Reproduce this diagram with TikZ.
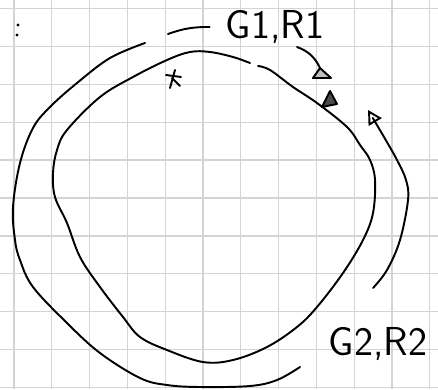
\documentclass[tikz,border=0pt]{standalone}
\usepackage{tikz}
\usetikzlibrary{arrows.meta}
\usetikzlibrary{positioning}

\tikzset{
  sketch/.style={line width=1.1pt, line cap=round, line join=round},
  gridline/.style={draw=black!17, line width=0.7pt},
  hand/.style={font=\sffamily\fontsize{23}{23}\selectfont, inner sep=0pt},
  tipopen/.style={-{Triangle[open, length=8pt, width=8.5pt]}},
}

\begin{document}
\begin{tikzpicture}[x=0.02cm, y=-0.02cm]
      \useasboundingbox (0,0) rectangle (438,389);

      % squared paper
      \foreach \gx in {14,51.8,...,431} \draw[gridline] (\gx,0) -- (\gx,389);
      \foreach \gy in {8.5,46.4,...,389} \draw[gridline] (0,\gy) -- (438,\gy);

      % labels
      \node[hand] (g1r1) at (275,27) {G1,R1};
      \node[hand] (g2r2) at (378,344) {G2,R2};

      \fill (18,25) circle (1.6);
      \fill (17,35) circle (1.6);

      \coordinate (lead) at (168,34);
      \coordinate (a1s) at (297,47);
      \coordinate (a1e) at (320,68);
      \coordinate (a2s) at (373,288);

      % lead line into the upper label
      \draw[sketch] (lead) to[bend left=10] ([xshift=-9pt]g1r1.west);

      % arrow from the upper label
      \draw[sketch] (a1s) to[bend left=22] (a1e);
      \draw[sketch, fill=black!25] (a1e) -- (313,78) -- (331,78) -- cycle;

      % inner loop
      \draw[sketch] plot[smooth, tension=0.6] coordinates {
        (258,66) (270,70) (293,87) (317,103) (347,127) (360,145) (370,160)
        (375,180) (373,213) (363,240) (343,273) (317,307) (297,327) (267,347)
        (233,360) (203,362) (167,350) (140,337) (123,317) (100,287) (80,257)
        (67,223) (55,197) (53,173) (57,150) (67,130) (100,97) (133,77)
        (167,60) (190,52) (210,52) (233,57) (250,63)};
      \draw[sketch, fill=black!70] (322,107) -- (330,91) -- (337,104) -- cycle;

      % outer arc, left and bottom
      \draw[sketch] plot[smooth, tension=0.6] coordinates {
        (145,43) (110,58) (77,83) (50,107) (33,128) (20,163) (13,207)
        (15,240) (20,260) (33,287) (67,323) (100,353) (140,378) (167,385)
        (200,387) (250,386) (277,380) (300,367)};

      % outer arc, right
      \draw[sketch, tipopen] plot[smooth, tension=0.6] coordinates {
        (373,288) (387,270) (400,240) (408,200) (406,180) (397,160)
        (384,137) (368,110)};

      % mark
      \draw[sketch] (166,75) -- (181,77);
      \draw[sketch] (175,70) -- (170,88);
      \draw[sketch] (172,78) -- (180,86);
    \end{tikzpicture}
\end{document}
